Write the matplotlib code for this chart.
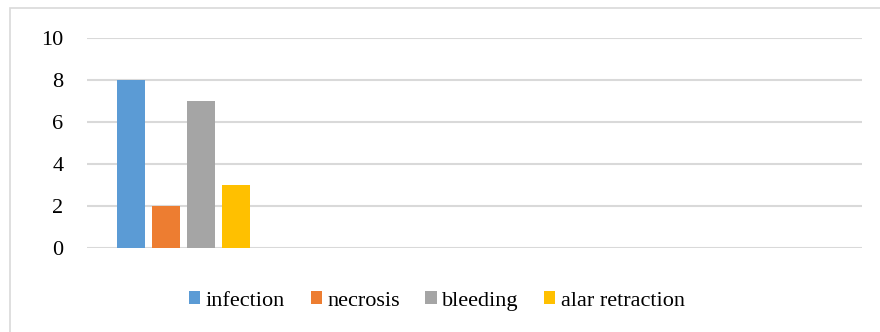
import matplotlib
matplotlib.use("Agg")
import matplotlib.pyplot as plt
from matplotlib.patches import Rectangle, Patch
from matplotlib import font_manager

series = ["infection", "necrosis", "bleeding", "alar retraction"]
values = [8, 2, 7, 3]
colors = ["#5B9BD5", "#ED7D31", "#A5A5A5", "#FFC000"]
yticks = [0, 2, 4, 6, 8, 10]

names = {f.name for f in font_manager.fontManager.ttflist}
serif_font = next((n for n in ['Liberation Serif', 'Times New Roman', 'Nimbus Roman',
                                'Tinos', 'DejaVu Serif'] if n in names), 'DejaVu Serif')
plt.rcParams['font.family'] = 'serif'
plt.rcParams['font.serif'] = [serif_font, 'DejaVu Serif']

fig = plt.figure(figsize=(8.8, 3.32), dpi=100)
fig.patches.append(Rectangle((10/880, -0.1), 1.2, 1.1 - 8/332, transform=fig.transFigure,
                             fill=False, edgecolor="#d9d9d9", linewidth=1.2))
ax = fig.add_axes([87/880, 1 - 248.3/332, (862-87)/880, (248.3-37.7)/332])

cat_px = 775/4
width = 28/cat_px
step = 35/cat_px
n = len(series)
for i, (s, v, c) in enumerate(zip(series, values, colors)):
    ax.bar((i - (n-1)/2) * step, v, width=width, color=c, label=s, zorder=3)

ax.set_xlim(-0.5, 3.5)
ax.set_ylim(0, 10)
ax.set_yticks(yticks)
ax.set_yticklabels([str(t) for t in yticks], fontsize=16)
ax.set_xticks([])
ax.tick_params(axis='y', length=0, pad=17, colors='black')
for sp in ax.spines.values():
    sp.set_visible(False)
ax.yaxis.grid(True, color="#d9d9d9", linewidth=1.5, zorder=0)
ax.set_axisbelow(True)

handles = [Patch(facecolor=c, edgecolor='none') for c in colors]
fig.legend(handles, series, loc='center', bbox_to_anchor=(437/880, 1 - 301/332), ncol=4,
           frameon=False, fontsize=16, handlelength=0.5, handleheight=0.5,
           handletextpad=0.25, columnspacing=1.15, borderpad=0, borderaxespad=0)

fig.savefig("out.png", dpi=100)
